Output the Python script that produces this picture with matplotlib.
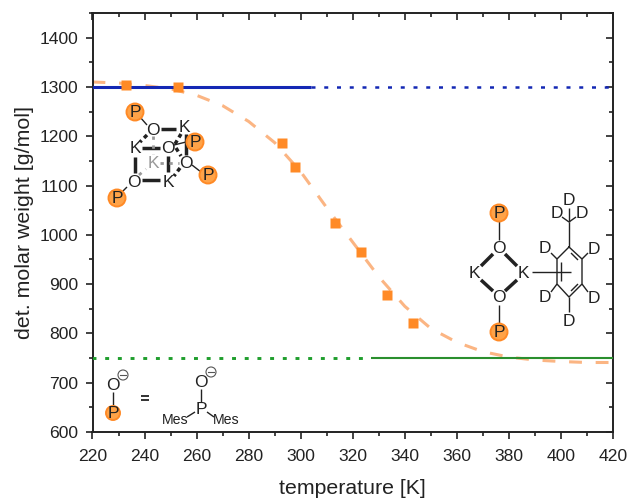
import matplotlib
matplotlib.use('Agg')
import matplotlib.pyplot as plt
from matplotlib.patches import Circle
from matplotlib.ticker import MultipleLocator

plt.rcParams['font.family'] = ['Liberation Sans', 'DejaVu Sans']

# measured points
temp = [233, 253, 293, 298, 313, 323, 333, 343]
mw = [1303, 1299, 1186, 1137, 1023, 966, 878, 822]

# fit curve
fit_t = [220, 230, 240, 250, 260, 270, 280, 290, 300, 310, 320, 330, 340, 350, 360, 370, 380, 390, 400, 410, 420]
fit_mw = [1310, 1308, 1303, 1296, 1283, 1262, 1230, 1187, 1128, 1055, 985, 915, 855, 810, 782, 763, 752, 746, 743, 741, 741]

tetramer_mw = 1300
dimer_mw = 750
tetramer_solid = [220, 304]
tetramer_dotted = [304, 420]
dimer_dotted = [220, 327]
dimer_solid = [327, 420]

orange = '#ff8a26'
pale = '#fbb583'
blue = '#1428b4'
green = '#1f9e2c'
ink = '#222222'

fig = plt.figure(figsize=(6.27, 4.98), dpi=100)
ax = fig.add_axes([92.5 / 627, 1 - 432 / 498, 520.5 / 627, 419 / 498])

ax.plot(fit_t, fit_mw, color=pale, lw=2.2, dashes=(4.2, 4.5), zorder=2)
ax.plot(tetramer_solid, [tetramer_mw] * 2, color=blue, lw=2.2, solid_capstyle='butt', zorder=3)
ax.plot(tetramer_dotted, [tetramer_mw] * 2, color=blue, lw=1.8, dashes=(1.6, 3.5), zorder=3)
ax.plot(dimer_dotted, [dimer_mw] * 2, color=green, lw=2.1, dashes=(1.35, 3), zorder=3)
ax.plot(dimer_solid, [dimer_mw] * 2, color='#2a8f2e', lw=1.5, solid_capstyle='butt', zorder=3)
ax.plot(temp, mw, ls='none', marker='s', ms=6.6, color=orange, mec='none', zorder=4)

ax.set_xlim(220, 420)
ax.set_ylim(600, 1450)
ax.xaxis.set_major_locator(MultipleLocator(20))
ax.xaxis.set_minor_locator(MultipleLocator(10))
ax.yaxis.set_major_locator(MultipleLocator(100))
ax.yaxis.set_minor_locator(MultipleLocator(50))
ax.tick_params(which='major', direction='out', length=5.2, width=1.2, labelsize=12.6, color=ink, labelcolor=ink)
ax.tick_params(which='minor', direction='out', length=3, width=1.2, color=ink)
ax.tick_params(axis='x', which='major', pad=7)
ax.tick_params(axis='y', which='major', pad=5)
for spine in ax.spines.values():
    spine.set_linewidth(1.4)
    spine.set_color(ink)
ax.set_xlabel('temperature [K]', fontsize=15.3, color=ink)
ax.set_ylabel('det. molar weight [g/mol]', fontsize=15.4, color=ink)
ax.xaxis.set_label_coords(0.5, -0.112)
ax.yaxis.set_label_coords(-0.113, 0.5)

# inward ticks on the top and right, as in the original frame
top = ax.secondary_xaxis('top')
top.xaxis.set_major_locator(MultipleLocator(20))
top.xaxis.set_minor_locator(MultipleLocator(10))
top.tick_params(which='major', direction='in', length=5.2, width=1.2, labeltop=False, color=ink)
top.tick_params(which='minor', direction='in', length=3, width=1.2, color=ink)
top.spines['top'].set_visible(False)
right = ax.secondary_yaxis('right')
right.yaxis.set_major_locator(MultipleLocator(100))
right.yaxis.set_minor_locator(MultipleLocator(50))
right.tick_params(which='major', direction='in', length=5.2, width=1.2, labelright=False, color=ink)
right.tick_params(which='minor', direction='in', length=3, width=1.2, color=ink)
right.spines['right'].set_visible(False)

# overlay in pixel coordinates for the structure drawings
ov = fig.add_axes([0, 0, 1, 1], facecolor='none')
ov.set_xlim(0, 627)
ov.set_ylim(498, 0)
ov.axis('off')


def atom(x, y, s, color=ink, size=12.5):
    ov.text(x, y, s, color=color, fontsize=size, ha='center', va='center', zorder=6)


def p_ball(x, y, r=8.5):
    ov.add_patch(Circle((x, y), r, fc='#ffa348', ec=orange, lw=1.4, zorder=5))
    atom(x, y, 'P')


def minus(x, y):
    ov.add_patch(Circle((x, y), 5, fc='white', ec='#555555', lw=0.8, zorder=5))
    ov.plot([x - 3, x + 3], [y, y], color='#555555', lw=0.8, zorder=6)


def bond(x0, y0, x1, y1, lw=1, color=ink, **kw):
    ov.plot([x0, x1], [y0, y1], color=color, lw=lw, solid_capstyle='butt', zorder=5, **kw)


# tetramer cube
bond(140, 117, 147, 125)
bond(192, 165, 201, 172)
bond(127, 187, 121, 193)
bond(174, 145, 186, 142)
bond(161, 129, 176, 129, lw=2.5)
bond(142, 148, 160, 148, lw=2.5)
bond(135, 157, 135, 173, lw=2.5)
bond(168, 156, 168, 172, lw=2.5)
bond(142, 180, 160, 180, lw=2.5)
bond(186, 134, 186, 155, lw=2.5)
for seg in [(147, 135, 140, 142), (175, 144, 181, 134), (180, 168, 174, 176), (176, 148, 181, 156)]:
    bond(*seg, lw=2.5, dashes=(1.2, 1))
for seg in [(139, 175, 146, 169), (153, 136, 153, 154), (160, 163, 179, 163)]:
    bond(*seg, lw=2, color='#999999', dashes=(1.2, 2))
for x, y, s in [(153, 130, 'O'), (184, 127, 'K'), (135, 148, 'K'), (168, 148, 'O'),
                (186, 163, 'O'), (134, 182, 'O'), (168, 182, 'K')]:
    atom(x, y, s)
atom(153, 163, 'K', color='#999999')
for x, y in [(135, 112), (195, 142), (208, 175), (117, 198)]:
    p_ball(x, y)

# dimer with toluene
bond(499, 221, 499, 240)
bond(499, 305, 499, 324)
bond(493, 254, 481, 266, lw=2.5)
bond(505, 254, 517, 266, lw=2.5)
bond(481, 280, 493, 291, lw=2.5)
bond(517, 280, 505, 291, lw=2.5)
bond(532, 272, 571, 272)
ring_x = [569, 582, 582, 569, 557, 557, 569]
ring_y = [247, 259, 284, 297, 284, 259, 247]
ov.plot(ring_x, ring_y, color=ink, lw=1, zorder=5)
bond(561, 262, 561, 281)
bond(571, 253, 578, 260)
bond(571, 291, 578, 284)
bond(569, 247, 569, 222)
bond(569, 222, 562, 217)
bond(569, 222, 576, 217)
bond(569, 222, 569, 208)
bond(557, 259, 551, 253)
bond(582, 259, 588, 253)
bond(557, 284, 551, 292)
bond(582, 284, 588, 292)
bond(569, 297, 569, 312)
for x, y, s in [(499, 248, 'O'), (474, 273, 'K'), (523, 273, 'K'), (499, 297, 'O'),
                (569, 200, 'D'), (557, 213, 'D'), (582, 213, 'D'), (545, 248, 'D'),
                (594, 249, 'D'), (545, 297, 'D'), (594, 298, 'D'), (569, 321, 'D')]:
    atom(x, y, s)
p_ball(499, 213)
p_ball(499, 332)

# legend scheme, bottom left
atom(113, 385, 'O')
minus(123, 375)
bond(113, 392, 113, 405)
p_ball(113, 413, r=7)
bond(141, 396, 149, 396, lw=1.3)
bond(141, 399.5, 149, 399.5, lw=1.3)
atom(201, 382, 'O')
minus(211, 372)
bond(201, 389, 201, 402)
atom(201, 409, 'P')
bond(195, 412, 187, 417)
bond(207, 412, 214, 417)
atom(175, 420, 'Mes', size=10.2)
atom(226, 420, 'Mes', size=10.2)

fig.savefig('out.png', dpi=100)
